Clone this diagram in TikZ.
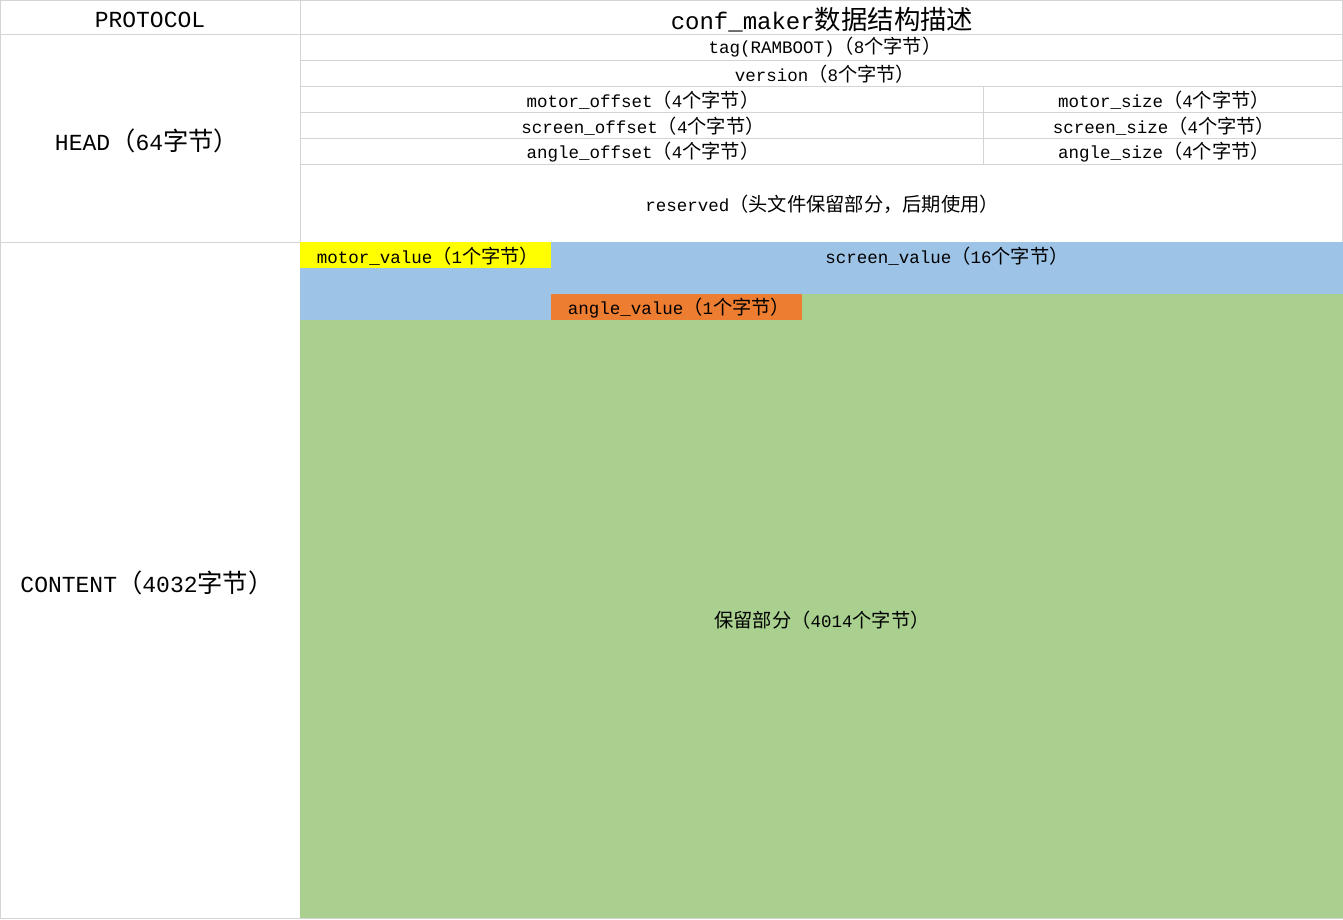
\documentclass[tikz,border=0pt]{standalone}
\usepackage{fontspec}
\setmainfont{Liberation Mono}
\newfontfamily\cjk[Scale=1.1]{Noto Sans CJK SC}
\definecolor{gridc}{HTML}{D4D4D4}
\definecolor{cyellow}{HTML}{FFFF00}
\definecolor{cblue}{HTML}{9DC3E6}
\definecolor{corange}{HTML}{ED7D31}
\definecolor{cgreen}{HTML}{A9D08E}
\begin{document}
\begin{tikzpicture}[x=1pt,y=-1pt,
  grid/.style={draw=gridc,line width=1pt},
  big/.style={font=\fontsize{23}{26}\selectfont,inner sep=0pt},
  small/.style={font=\fontsize{17.5}{19}\selectfont,inner sep=0pt}]
\useasboundingbox (0,0) rectangle (1343,919);
\fill[white] (0,0) rectangle (1343,919);
% grid lines
\draw[grid] (0.5,0.5) rectangle (1342.5,918.5);
\draw[grid] (300.5,0.5) -- (300.5,918.5);
\draw[grid] (0.5,34.5) -- (1342.5,34.5);
\draw[grid] (300.5,60.5) -- (1342.5,60.5);
\draw[grid] (300.5,86.5) -- (1342.5,86.5);
\draw[grid] (300.5,112.5) -- (1342.5,112.5);
\draw[grid] (300.5,138.5) -- (1342.5,138.5);
\draw[grid] (300.5,164.5) -- (1342.5,164.5);
\draw[grid] (983.5,86.5) -- (983.5,164.5);
\draw[grid] (0.5,242.5) -- (1342.5,242.5);
% coloured content area
\fill[cblue] (300,242) rectangle (1343,320);
\fill[cgreen] (802,294) rectangle (1343,320);
\fill[cgreen] (300,320) rectangle (1343,918);
\fill[cyellow] (300,242) rectangle (551,268);
\fill[corange] (551,294) rectangle (802,320);
% texts
\node[big] (proto) at (150,20) {PROTOCOL};
\node[big,font=\fontsize{24}{26}\selectfont] (title) at (822,20) {conf\_maker{\cjk 数据结构描述}};
\node[small] (tag) at (825,47) {tag(RAMBOOT){\cjk（}8{\cjk 个字节）}};
\node[small] (ver) at (825,74) {version{\cjk（}8{\cjk 个字节）}};
\node[small] (moff) at (643,100) {motor\_offset{\cjk（}4{\cjk 个字节）}};
\node[small] (msz) at (1164,100) {motor\_size{\cjk（}4{\cjk 个字节）}};
\node[small] (soff) at (643,126) {screen\_offset{\cjk（}4{\cjk 个字节）}};
\node[small] (ssz) at (1164,126) {screen\_size{\cjk（}4{\cjk 个字节）}};
\node[small] (aoff) at (643,152) {angle\_offset{\cjk（}4{\cjk 个字节）}};
\node[small] (asz) at (1164,152) {angle\_size{\cjk（}4{\cjk 个字节）}};
\node[small] (res) at (822,204) {reserved{\cjk（头文件保留部分，后期使用）}};
\node[big] (head) at (147,141) {HEAD{\cjk（}64{\cjk 字节）}};
\node[big] (cont) at (147,583) {CONTENT{\cjk（}4032{\cjk 字节）}};
\node[small] (mval) at (428,256) {motor\_value{\cjk（}1{\cjk 个字节）}};
\node[small] (sval) at (947,256) {screen\_value{\cjk（}16{\cjk 个字节）}};
\node[small] (aval) at (679,308) {angle\_value{\cjk（}1{\cjk 个字节）}};
\node[small] (rsv) at (822,620) {{\cjk 保留部分（}4014{\cjk 个字节）}};
\end{tikzpicture}
\end{document}
